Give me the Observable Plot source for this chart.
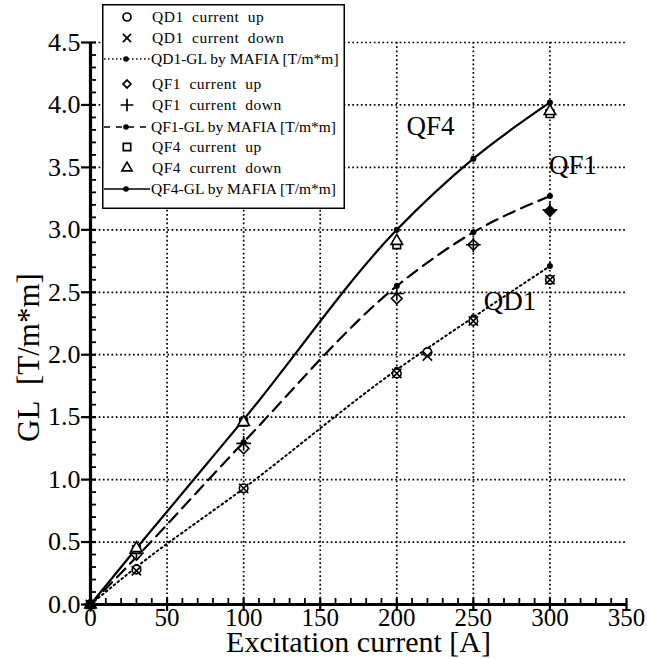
<!DOCTYPE html>
<html>
<head>
<meta charset="utf-8">
<script src="https://cdn.jsdelivr.net/npm/d3@7"></script>
<script src="https://cdn.jsdelivr.net/npm/@observablehq/plot@0.6"></script>
<style>
  html, body { margin: 0; padding: 0; background: #fff; }
  #wrap { position: relative; width: 647px; height: 659px; }
  #chart svg, #chart svg text, #legend svg text { font-family: "Liberation Serif", "DejaVu Serif", serif !important; }
  #legend { position: absolute; left: 102px; top: 4px; }
</style>
</head>
<body>
<div id="wrap"><div id="chart"></div><div id="legend"></div></div>
<script>
// ---- data ----
const xMafia   = [0, 30, 100, 200, 250, 300];
const qd1Mafia = [0, 0.30, 0.93, 1.88, 2.30, 2.71];
const qf1Mafia = [0, 0.38, 1.30, 2.55, 2.98, 3.27];
const qf4Mafia = [0, 0.45, 1.48, 3.00, 3.57, 4.02];

const xQD1     = [0, 30, 100, 200, 220, 250, 300];
const qd1Up    = [0, 0.28, 0.93, 1.85, 2.02, 2.27, 2.60];
const qd1Down  = [0, 0.27, 0.93, 1.85, 1.99, 2.27, 2.60];

const xQF1     = [0, 30, 100, 200, 250, 300];
const qf1Up    = [0, 0.40, 1.25, 2.45, 2.88, 3.15];
const qf1Down  = [0, 0.41, 1.29, 2.49, 2.88, 3.16];

const xQF4     = [0, 30, 100, 200, 300];
const qf4Up    = [0, 0.44, 1.46, 2.88, 3.93];
const qf4Down  = [0, 0.45, 1.46, 2.91, 3.95];

const curveNames  = ["QF4", "QF1", "QD1"];
const curveLabelX = [222, 315, 274];
const curveLabelY = [3.83, 3.52, 2.43];

const majorX = [0, 50, 100, 150, 200, 250, 300, 350];
const majorY = [0, 0.5, 1.0, 1.5, 2.0, 2.5, 3.0, 3.5, 4.0, 4.5];
const gridXTicks = [50, 100, 150, 200, 250, 300];
const gridYTicks = [0.5, 1.0, 1.5, 2.0, 2.5, 3.0, 3.5, 4.0, 4.5];
const minorX = d3.range(0, 351, 10).filter(v => v % 50 !== 0);
const minorY = d3.range(0, 46).map(v => v / 10).filter((v, i) => i % 5 !== 0);

const legendLabels = [
  "QD1 current up", "QD1 current down", "QD1-GL by MAFIA [T/m*m]",
  "QF1 current up", "QF1 current down", "QF1-GL by MAFIA [T/m*m]",
  "QF4 current up", "QF4 current down", "QF4-GL by MAFIA [T/m*m]"
];

// ---- build tables ----
const zip = (xs, ys) => xs.map((x, i) => ({x, y: ys[i]}));
const mQD1 = zip(xMafia, qd1Mafia), mQF1 = zip(xMafia, qf1Mafia), mQF4 = zip(xMafia, qf4Mafia);
const labels = curveNames.map((t, i) => ({t, x: curveLabelX[i], y: curveLabelY[i]}));

const W = 647, H = 659, mL = 90, mR = 21, mT = 42, mB = 55;
const fw = W - mL - mR, fh = H - mT - mB;
const symStyle = {x: "x", y: "y", r: 4.3, stroke: "black", strokeWidth: 1.6};
const FONT = "Liberation Serif";

const chart = Plot.plot({
  width: W,
  height: H,
  marginLeft: mL,
  marginRight: mR,
  marginTop: mT,
  marginBottom: mB,
  style: {fontFamily: FONT, background: "white", color: "black"},
  x: {domain: [0, 350]},
  y: {domain: [0, 4.5]},
  marks: [
    Plot.gridX(gridXTicks, {stroke: "black", strokeOpacity: 1, strokeWidth: 1.7, strokeDasharray: "1.7,2.6"}),
    Plot.gridY(gridYTicks, {stroke: "black", strokeOpacity: 1, strokeWidth: 1.7, strokeDasharray: "1.7,2.6"}),
    // MAFIA curves
    Plot.line(mQD1, {x: "x", y: "y", curve: "monotone-x", stroke: "black", strokeWidth: 2, strokeDasharray: "1.7,3.3"}),
    Plot.line(mQF1, {x: "x", y: "y", curve: "monotone-x", stroke: "black", strokeWidth: 2.2, strokeDasharray: "12,7"}),
    Plot.line(mQF4, {x: "x", y: "y", curve: "monotone-x", stroke: "black", strokeWidth: 2.2}),
    Plot.dot([...mQD1, ...mQF1, ...mQF4], {x: "x", y: "y", r: 3, fill: "black"}),
    // measurements
    Plot.dot(zip(xQD1, qd1Up), {...symStyle, symbol: "circle", fill: "white"}),
    Plot.dot(zip(xQD1, qd1Down), {...symStyle, symbol: "times"}),
    Plot.dot(zip(xQF1, qf1Up), {...symStyle, r: 4.8, symbol: "diamond2", fill: d => d.x === 300 ? "black" : "white"}),
    Plot.dot(zip(xQF1, qf1Down), {...symStyle, r: 4.8, symbol: "plus"}),
    Plot.dot(zip(xQF4, qf4Up), {...symStyle, symbol: "square", fill: d => d.x === 0 ? "black" : "white"}),
    Plot.dot(zip(xQF4, qf4Down), {...symStyle, symbol: "triangle", fill: d => d.x === 0 ? "black" : "white"}),
    // axis lines
    Plot.ruleX([0], {stroke: "black", strokeWidth: 3.2}),
    Plot.ruleY([0], {stroke: "black", strokeWidth: 3.2}),
    // minor ticks (inside) and major ticks (crossing)
    Plot.ruleX(minorX, {x: d => d, insetTop: fh - 6, stroke: "black", strokeWidth: 1.8}),
    Plot.ruleY(minorY, {y: d => d, insetRight: fw - 6, stroke: "black", strokeWidth: 1.8}),
    Plot.ruleX(majorX, {x: d => d, insetTop: fh - 6, insetBottom: -7, stroke: "black", strokeWidth: 2.2}),
    Plot.ruleY(majorY, {y: d => d, insetRight: fw - 6, insetLeft: -9, stroke: "black", strokeWidth: 2.2}),
    // tick labels
    Plot.axisX({ticks: majorX, tickSize: 0, tickPadding: 4, fontSize: 25, fontFamily: FONT, tickFormat: d => String(d), label: null}),
    Plot.axisY({ticks: majorY, tickSize: 0, tickPadding: 10, fontSize: 26, fontFamily: FONT, tickFormat: d3.format(".1f"), label: null}),
    // curve labels
    Plot.text(labels, {x: "x", y: "y", text: "t", fontSize: 27, fontFamily: FONT, fill: "black"}),
    // axis titles
    Plot.text(["Excitation current [A]"], {frameAnchor: "bottom", lineAnchor: "middle", dy: 38, fontSize: 30, fontFamily: FONT, fill: "black"}),
    Plot.text(["GL\u00a0\u00a0[T/m*m]"], {frameAnchor: "left", textAnchor: "middle", lineAnchor: "middle", dx: -61, dy: 34, rotate: -90, fontSize: 31, fontFamily: FONT, fill: "black"})
  ]
});
document.getElementById("chart").appendChild(chart);

// ---- legend ----
const lw = 243, lh = 205;
const rowY = [13, 34, 55, 80, 101, 123, 143, 164, 185];
const svg = d3.select("#legend").append("svg")
  .attr("width", lw).attr("height", lh);
svg.append("rect").attr("x", 0.75).attr("y", 0.75).attr("width", lw - 1.5).attr("height", lh - 1.5)
  .attr("fill", "white").attr("stroke", "black").attr("stroke-width", 1.5);
const kinds = ["circle", "times", "line:dot", "diamond", "plus", "line:dash", "square", "triangle", "line:solid"];
const symMap = {circle: d3.symbolCircle, times: d3.symbolTimes, diamond: d3.symbolDiamond2, plus: d3.symbolPlus, square: d3.symbolSquare, triangle: d3.symbolTriangle};
const symSize = {circle: 50, times: 45, diamond: 40, plus: 55, square: 55, triangle: 45};
legendLabels.forEach((lab, i) => {
  const k = kinds[i], y = rowY[i];
  const isLine = k.startsWith("line");
  const g = svg.append("g");
  if (isLine) {
    const dash = k === "line:dot" ? "1.5,2.5" : k === "line:dash" ? "6,6" : null;
    g.append("line").attr("x1", 2).attr("x2", 48).attr("y1", y).attr("y2", y)
      .attr("stroke", "black").attr("stroke-width", 1.6).attr("stroke-dasharray", dash);
    g.append("circle").attr("cx", 24).attr("cy", y).attr("r", 2.8).attr("fill", "black");
  } else {
    const open = ["circle", "diamond", "square", "triangle"].includes(k);
    g.append("path").attr("transform", `translate(25,${y})`)
      .attr("d", d3.symbol(symMap[k], symSize[k])())
      .attr("fill", open ? "white" : "none").attr("stroke", "black").attr("stroke-width", 1.7);
  }
  g.append("text").attr("x", isLine ? 49 : 50).attr("y", y).attr("dy", "0.35em")
    .attr("font-size", 15.5).attr("fill", "black")
    .attr("word-spacing", isLine ? 0 : 4)
    .attr("letter-spacing", isLine ? 0 : 0.5)
    .text(lab);
});
</script>
</body>
</html>
